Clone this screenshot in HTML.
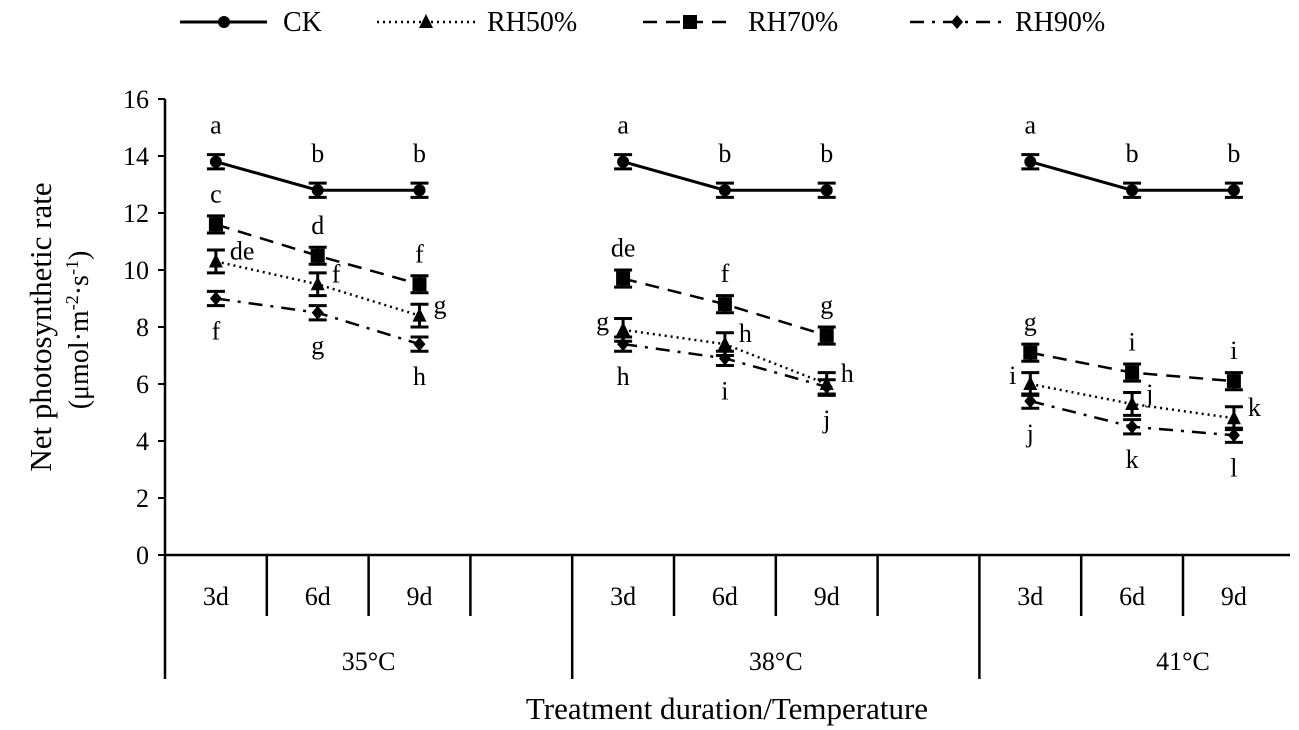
<!DOCTYPE html>
<html><head><meta charset="utf-8"><style>
body{margin:0;background:#fff;}
svg{display:block;font-family:"Liberation Serif",serif;}
</style></head><body>
<svg id="chart" width="1299" height="730" xmlns="http://www.w3.org/2000/svg"></svg>
<script>
const subCats=["3d","6d","9d"];
const groups=["35°C","38°C","41°C"];
const seriesNames=["CK","RH50%","RH70%","RH90%"];
const ck=[13.8,12.8,12.8, 13.8,12.8,12.8, 13.8,12.8,12.8];
const rh50=[10.3,9.5,8.4, 7.9,7.4,6.0, 6.0,5.3,4.8];
const rh70=[11.6,10.5,9.5, 9.7,8.8,7.7, 7.1,6.4,6.1];
const rh90=[9.0,8.5,7.4, 7.4,6.9,5.9, 5.4,4.5,4.2];
const errs=[0.25,0.4,0.3,0.25];
const yTicks=[0,2,4,6,8,10,12,14,16];
const lettersCK=["a","b","b","a","b","b","a","b","b"];
const letters50=["de","f","g","g","h","h","i","j","k"];
const letters70=["c","d","f","de","f","g","g","i","i"];
const letters90=["f","g","h","h","i","j","j","k","l"];
const side50=["r","r","r","l","r","r","l","r","r"];

const svg=document.getElementById('chart');
const NS="http://www.w3.org/2000/svg";
function mk(t,a,txt,name,inter){const e=document.createElementNS(NS,t);for(const k in a)e.setAttribute(k,a[k]);if(txt!=null)e.textContent=txt;


svg.appendChild(e);return e;}
const X0=165,slot=101.8,Y0=555,Y1=99,YMAX=16;
const y=v=>Y0-(Y0-Y1)*v/YMAX;
const xi=i=>{const g=Math.floor(i/3),s=i%3;return X0+slot*(g*4+s+0.5);};

mk('line',{x1:X0,y1:Y1,x2:X0,y2:679,stroke:'#000','stroke-width':2.5},null,'y-axis',false);
mk('line',{x1:X0,y1:Y0,x2:1290,y2:Y0,stroke:'#000','stroke-width':2.5},null,'x-axis',false);
yTicks.forEach(t=>{
 mk('line',{x1:X0-7,y1:y(t),x2:X0,y2:y(t),stroke:'#000','stroke-width':2},null,'y-tick',false);
 mk('text',{x:X0-16,y:y(t)+9,'text-anchor':'end','font-size':26},String(t),'y-tick-label',false);
});
for(let k=1;k<=10;k++){
 const x=X0+slot*k; const major=(k%4===0);
 mk('line',{x1:x,y1:Y0,x2:x,y2:major?679:616,stroke:'#000','stroke-width':2.5},null,major?'group-separator':'category-separator',false);
}
for(let i=0;i<9;i++) mk('text',{x:xi(i),y:605,'text-anchor':'middle','font-size':26},subCats[i%3],'category-label',false);
groups.forEach((g,j)=>mk('text',{x:X0+slot*(j*4+2),y:670,'text-anchor':'middle','font-size':26},g,'group-label',false));
mk('text',{x:727,y:719,'text-anchor':'middle','font-size':31},'Treatment duration/Temperature','x-axis-title',false);
const yt=mk('text',{transform:'rotate(-90)','text-anchor':'middle','font-size':31},null,'y-axis-title',false);
yt.innerHTML='<tspan x="-327" y="51">Net photosynthetic rate</tspan>';
const yt2=mk('text',{transform:'rotate(-90)','text-anchor':'middle','font-size':28},null,'y-axis-unit',false);
yt2.innerHTML='<tspan x="-330" y="88">(μmol·m<tspan font-size="18" dy="-10">-2</tspan><tspan dy="10">·s</tspan><tspan font-size="18" dy="-10">-1</tspan><tspan dy="10">)</tspan></tspan>';

const dashes=["", "2,4", "14,9", "14,8,3,8"];
const allSeries=[ck,rh50,rh70,rh90];
function marker(type,cx,cy,name){
 if(type===0) mk('circle',{cx,cy,r:6,fill:'#000'},null,name,false);
 else if(type===1) mk('polygon',{points:`${cx},${cy-8} ${cx-7},${cy+6} ${cx+7},${cy+6}`,fill:'#000'},null,name,false);
 else if(type===2) mk('rect',{x:cx-7,y:cy-7,width:14,height:14,fill:'#000'},null,name,false);
 else mk('polygon',{points:`${cx},${cy-7} ${cx+6},${cy} ${cx},${cy+7} ${cx-6},${cy}`,fill:'#000'},null,name,false);
}
allSeries.forEach((s,si)=>{
 for(let g=0;g<3;g++){
  const pts=[0,1,2].map(k=>`${xi(g*3+k)},${y(s[g*3+k])}`).join(' ');
  const a={points:pts,fill:'none',stroke:'#000','stroke-width':si===0?3:2.5};
  if(dashes[si])a['stroke-dasharray']=dashes[si];
  mk('polyline',a,null,'line-'+seriesNames[si].toLowerCase().replace('%',''),false);
 }
 s.forEach((v,i)=>{
  const cx=xi(i),e=errs[si];
  mk('path',{d:`M${cx},${y(v+e)}V${y(v-e)}M${cx-9},${y(v+e)}H${cx+9}M${cx-9},${y(v-e)}H${cx+9}`,stroke:'#000','stroke-width':3},null,'error-bar',false);
  marker(si,cx,y(v),'point-'+seriesNames[si].toLowerCase().replace('%',''));
 });
});
const fs=26;
ck.forEach((v,i)=>mk('text',{x:xi(i),y:y(v)-28,'text-anchor':'middle','font-size':fs},lettersCK[i],'significance-letter',false));
rh70.forEach((v,i)=>mk('text',{x:xi(i),y:y(v)-22,'text-anchor':'middle','font-size':fs},letters70[i],'significance-letter',false));
rh90.forEach((v,i)=>mk('text',{x:xi(i),y:y(v)+41,'text-anchor':'middle','font-size':fs},letters90[i],'significance-letter',false));
rh50.forEach((v,i)=>{const r=side50[i]==='r';mk('text',{x:xi(i)+(r?14:-14),y:y(v)+(r?-2:0),'text-anchor':r?'start':'end','font-size':fs},letters50[i],'significance-letter',false);});

const leg=[[180,267,224,283],[377,475,426,487],[643,735,690,748],[910,1004,957,1015]];
leg.forEach((L,si)=>{
 const a={x1:L[0],y1:22,x2:L[1],y2:22,stroke:'#000','stroke-width':si===0?3:2.5};
 if(dashes[si])a['stroke-dasharray']=dashes[si];
 mk('line',a,null,'legend-line',false);
 marker(si,L[2],22,'legend-marker');
 mk('text',{x:L[3],y:31,'font-size':28},seriesNames[si],'legend-entry',true);
});
</script>
</body></html>
